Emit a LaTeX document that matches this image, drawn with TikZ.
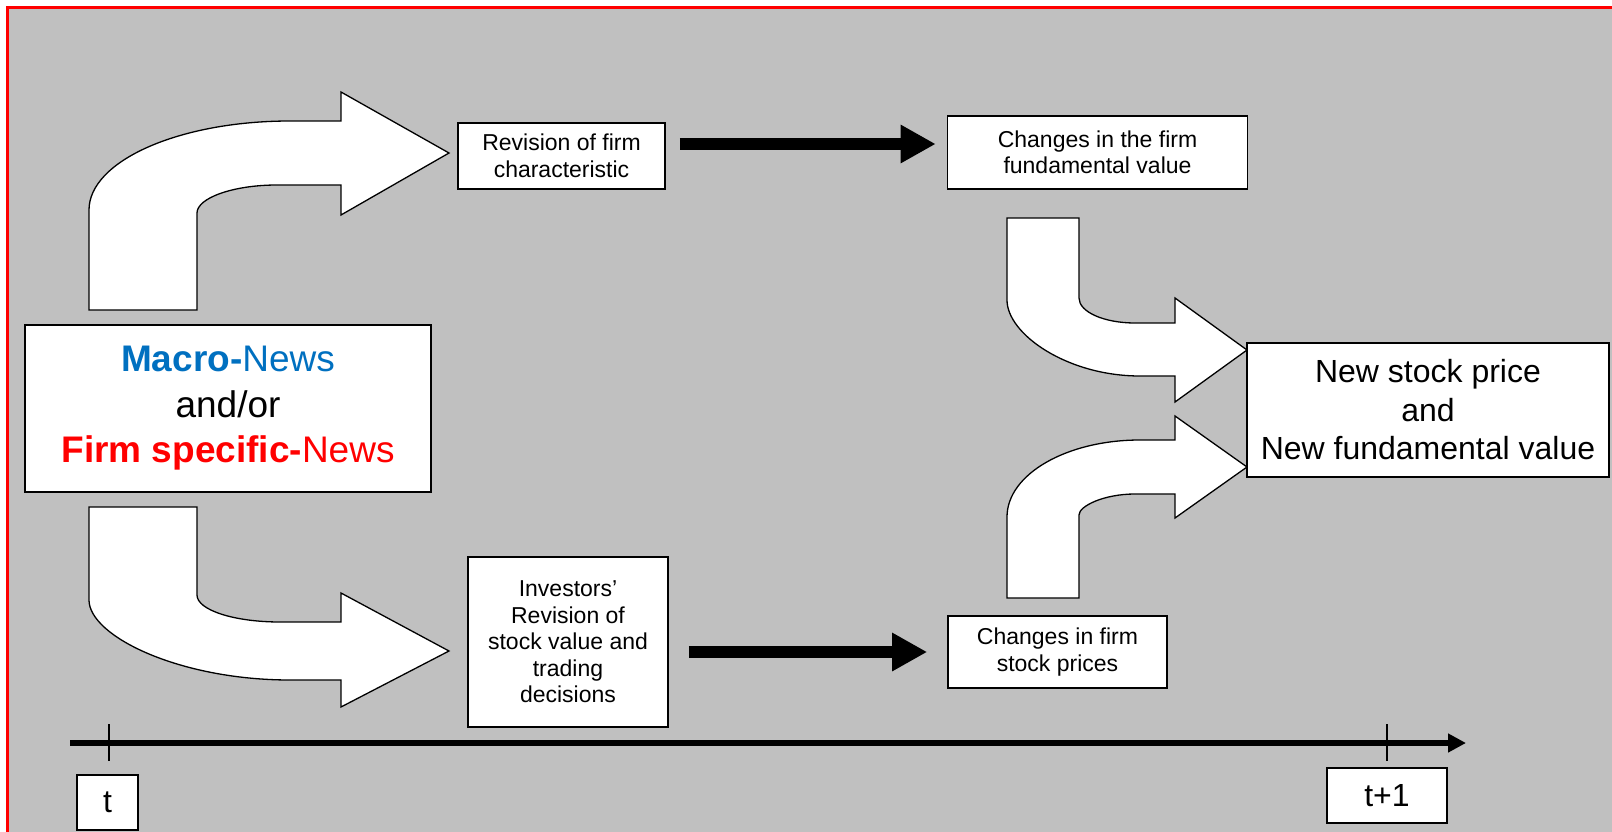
\documentclass[tikz,border=0pt]{standalone}
\usepackage{fontspec}
\setmainfont{Liberation Sans}
\usetikzlibrary{arrows.meta}
\definecolor{panelgray}{RGB}{192,192,192}
\definecolor{macroblue}{RGB}{0,112,192}
\definecolor{firmred}{RGB}{255,0,0}

\begin{document}
\begin{tikzpicture}[
        x=1pt, y=-1pt,
        box/.style={draw, line width=1.6pt, fill=white, align=center, inner sep=0pt},
        smallbox/.style={box, font=\fontsize{23}{26.5}\selectfont},
        bigbox/.style={box, font=\fontsize{32}{38.5}\selectfont},
        bent/.style={draw, fill=white, line width=1.3pt},
        fat/.style={line width=12pt, -{Triangle[length=35pt, width=36pt]}},
        timeline/.style={line width=6pt, -{Triangle[length=18pt, width=18pt]}},
        tick/.style={line width=1.6pt}
    ]
        \useasboundingbox (0,0) rectangle (1612,832);
        \clip (0,0) rectangle (1612,832);
        \draw[firmred, line width=2.2pt, fill=panelgray] (7.5,7.5) rectangle (1640,860);

        \draw[bent] (89,310) -- (89,210) .. controls (89,161) and (179,121) .. (290,121) -- (341,121) -- (341,92) -- (449,153) -- (341,215) -- (341,185) -- (277,185) .. controls (233,185) and (197,198) .. (197,213) -- (197,310) -- cycle;
        \draw[bent] (89,507) -- (197,507) -- (197,595) .. controls (197,610) and (234,622) .. (280,622) -- (341,622) -- (341,593) -- (449,651) -- (341,707) -- (341,680) -- (290,680) .. controls (179,680) and (89,636) .. (89,600) -- cycle;
        \draw[bent] (1007,218) -- (1079,218) -- (1079,298) .. controls (1079,312) and (1104,323) .. (1135,323) -- (1175,323) -- (1175,298) -- (1247,350) -- (1175,402) -- (1175,376) -- (1140,376) .. controls (1067,376) and (1007,334) .. (1007,300) -- cycle;
        \draw[bent] (1007,598) -- (1007,517) .. controls (1007,474) and (1067,440) .. (1140,440) -- (1175,440) -- (1175,416) -- (1247,467) -- (1175,518) -- (1175,494) -- (1135,494) .. controls (1104,494) and (1079,506) .. (1079,515) -- (1079,598) -- cycle;

        \node[box, minimum width=406pt, minimum height=167pt, font=\fontsize{37}{45.5}\selectfont] (news) at (228,408.5) {\textcolor{macroblue}{\textbf{Macro-}News}\\and/or\\\textcolor{firmred}{\textbf{Firm specific-}News}};
        \node[smallbox, minimum width=207pt, minimum height=66pt] (rev) at (561.5,156) {Revision of firm\\characteristic};
        \node[smallbox, minimum width=300pt, minimum height=73pt] (fund) at (1097.5,152.5) {Changes in the firm\\fundamental value};
        \node[smallbox, minimum width=200pt, minimum height=170pt] (inv) at (568,642) {Investors’\\Revision of\\stock value and\\trading\\decisions};
        \node[smallbox, minimum width=219pt, minimum height=72pt] (price) at (1057.5,652) {Changes in firm\\stock prices};
        \node[bigbox, minimum width=362pt, minimum height=134pt] (newval) at (1428,410) {New stock price\\and\\New fundamental value};
        \node[bigbox, minimum width=61pt, minimum height=55pt] (tnow) at (107.5,802.5) {t};
        \node[bigbox, minimum width=120pt, minimum height=55pt] (tnext) at (1387,795.5) {t+1};

        \draw[fat, shorten <=14pt, shorten >=11pt] ([yshift=12pt]rev.east) -- ([yshift=12pt]rev.east -| fund.west);
        \draw[fat, shorten <=20pt, shorten >=20pt] ([yshift=-10pt]inv.east) -- ([yshift=-10pt]inv.east -| price.west);

        \coordinate (tl0) at (70,743);
        \coordinate (tl1) at (1466,743);
        \draw[timeline] (tl0) -- (tl1);
        \draw[tick] (109,724) -- (109,761);
        \draw[tick] (1387,724) -- (1387,761);
    \end{tikzpicture}
\end{document}
